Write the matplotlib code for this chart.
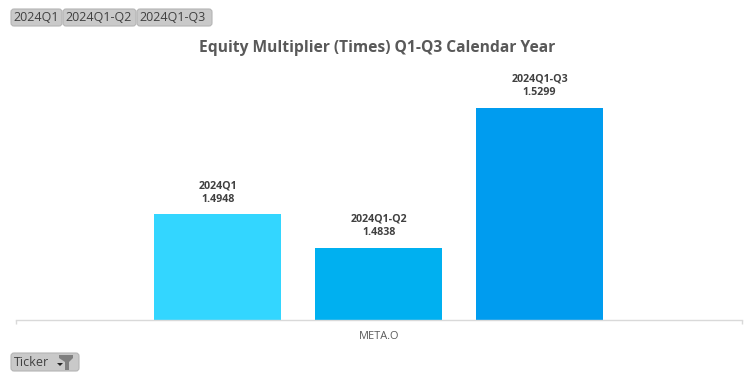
import matplotlib
matplotlib.use("Agg")
import matplotlib.pyplot as plt
from matplotlib.patches import FancyBboxPatch, Polygon, Rectangle

W, H = 756, 378
categories = ["META.O"]
series_names = ["2024Q1", "2024Q1-Q2", "2024Q1-Q3"]
series_values = [1.4948, 1.4838, 1.5299]
bar_colors = ["#33D6FF", "#00B0F0", "#009CEF"]
title = "Equity Multiplier (Times) Q1-Q3 Calendar Year"
filter_label = "Ticker"

plt.rcParams["font.family"] = ["Open Sans", "DejaVu Sans"]
fig = plt.figure(figsize=(W / 100, H / 100), dpi=100, facecolor="white")

# chart axes, positioned in pixels
left, right, top, bottom = 16, 742, 60, 320
ax = fig.add_axes([left / W, 1 - bottom / H, (right - left) / W, (bottom - top) / H])
ymin = 1.46
ax.set_ylim(ymin, ymin + (bottom - top) / 3040)
ax.set_xlim(-2.2547, 2.258)
positions = [-1, 0, 1]
bars = ax.bar(positions, series_values, width=0.789, color=bar_colors, linewidth=0)
for x, v, name in zip(positions, series_values, series_names):
    ax.annotate(f"{name}\n{v:.4f}", (x, v), xytext=(0, 6.6), textcoords="offset points",
                ha="center", va="bottom", fontsize=7.7, fontweight="bold",
                color="#404040", linespacing=1.38)
for s in ("top", "left", "right"):
    ax.spines[s].set_visible(False)
ax.spines["bottom"].set_color("#D9D9D9")
ax.spines["bottom"].set_linewidth(1)
ax.set_yticks([])
ax.set_xticks([0], categories)
ax.tick_params(axis="x", length=0, pad=8, labelsize=7.9, labelcolor="#595959")
ax.vlines([ax.get_xlim()[0], ax.get_xlim()[1]], ymin - 4 / 3040, ymin, color="#D9D9D9",
          linewidth=1, clip_on=False)

fig.text(377.5 / W, 1 - 47.5 / H, title, ha="center", va="center", fontsize=11.25,
         fontweight="bold", color="#595959")

# overlay in pixel coordinates for the pivot-chart field buttons
ov = fig.add_axes([0, 0, 1, 1], facecolor="none")
ov.set_xlim(0, W)
ov.set_ylim(H, 0)
ov.axis("off")


def button(x0, x1, y0, y1, label, tx):
    ov.add_patch(FancyBboxPatch((x0 + 3, y0 + 3), x1 - x0 - 6, y1 - y0 - 6,
                                boxstyle="round,pad=3,rounding_size=3", fc="#C9C9C9",
                                ec="#B5B5B5", lw=0.8))
    ov.text(tx, (y0 + y1) / 2, label, ha="left", va="center", fontsize=9, color="#404040")


button(11, 62, 9, 26, series_names[0], 13.5)
button(63, 136, 9, 26, series_names[1], 65.5)
button(137, 212, 9, 26, series_names[2], 139.5)
button(11, 79, 353, 371, filter_label, 13.5)

# dropdown arrow and funnel icon on the filter button
ov.add_patch(Polygon([(57, 363), (63, 363), (60, 366)], fc="#222222", ec="none"))
ov.add_patch(Polygon([(59, 355), (73, 355), (73, 358), (69, 362), (69, 370), (65, 370),
                      (65, 362), (59, 358)], fc="#7F7F7F", ec="none"))

fig.savefig("out.png", dpi=100)
